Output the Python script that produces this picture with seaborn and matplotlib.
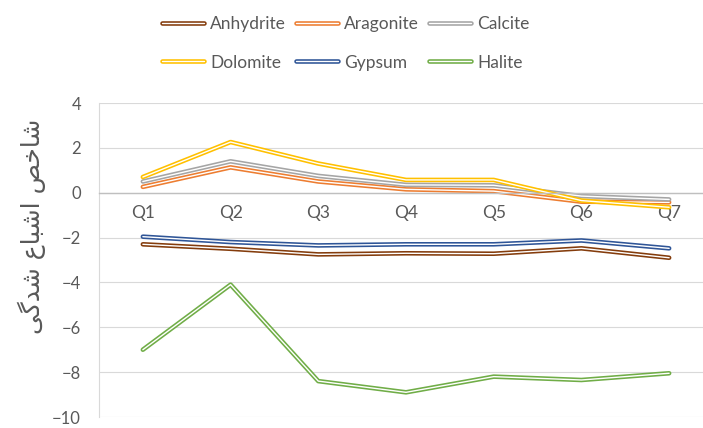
import pandas as pd
import matplotlib.pyplot as plt
import matplotlib.patheffects as pe
import seaborn as sns

quarters = ['Q1', 'Q2', 'Q3', 'Q4', 'Q5', 'Q6', 'Q7']
anhydrite = [-2.3, -2.5, -2.75, -2.7, -2.72, -2.48, -2.9]
aragonite = [0.26, 1.13, 0.5, 0.15, 0.07, -0.4, -0.43]
calcite = [0.5, 1.4, 0.75, 0.35, 0.33, -0.15, -0.3]
dolomite = [0.7, 2.26, 1.3, 0.57, 0.57, -0.35, -0.65]
gypsum = [-1.96, -2.2, -2.35, -2.3, -2.3, -2.13, -2.48]
halite = [-7.0, -4.1, -8.4, -8.9, -8.2, -8.35, -8.05]

minerals = ['Anhydrite', 'Aragonite', 'Calcite', 'Dolomite', 'Gypsum', 'Halite']
colors = ['#843C0C', '#ED7D31', '#A5A5A5', '#FFC000', '#2F5597', '#70AD47']
ylabel = 'شاخص اشباع شدگی'

# matplotlib has no arabic shaping, so pick the presentation forms by hand
FORMS = {
    'ا': ('\uFE8D', '\uFE8E', '\uFE8D', '\uFE8E'),
    'ب': ('\uFE8F', '\uFE90', '\uFE91', '\uFE92'),
    'خ': ('\uFEA5', '\uFEA6', '\uFEA7', '\uFEA8'),
    'د': ('\uFEA9', '\uFEAA', '\uFEA9', '\uFEAA'),
    'ش': ('\uFEB5', '\uFEB6', '\uFEB7', '\uFEB8'),
    'ص': ('\uFEB9', '\uFEBA', '\uFEBB', '\uFEBC'),
    'ع': ('\uFEC9', '\uFECA', '\uFECB', '\uFECC'),
    'گ': ('\uFB92', '\uFB93', '\uFB94', '\uFB95'),
    'ی': ('\uFBFC', '\uFBFD', '\uFBFE', '\uFBFF'),
}
NON_JOINING = set('اد')


def shape(text):
    out = []
    for i, ch in enumerate(text):
        if ch not in FORMS:
            out.append(ch)
            continue
        prev = text[i - 1] if i > 0 else ' '
        nxt = text[i + 1] if i + 1 < len(text) else ' '
        join_prev = prev in FORMS and prev not in NON_JOINING
        join_next = nxt in FORMS and ch not in NON_JOINING
        idx = {(False, False): 0, (True, False): 1, (False, True): 2, (True, True): 3}[(join_prev, join_next)]
        out.append(FORMS[ch][idx])
    return ''.join(reversed(out))


def plot_saturation(output_path):
    series = [anhydrite, aragonite, calcite, dolomite, gypsum, halite]
    df = pd.DataFrame({'quarter': quarters * len(minerals),
                       'mineral': [m for m in minerals for _ in quarters],
                       'value': [v for s in series for v in s]})

    sns.set_theme(style="white")
    plt.rcParams['font.family'] = ['Lato', 'DejaVu Sans']

    fig = plt.figure(figsize=(7.03, 4.28), dpi=100)
    ax = fig.add_axes([99 / 703, 11 / 428, 614 / 703, 314 / 428])

    sns.lineplot(data=df, x='quarter', y='value', hue='mineral',
                 palette=dict(zip(minerals, colors)), sort=False,
                 legend=False, ax=ax)

    # excel style double line: thick coloured stroke with a thin white core
    for line, c in zip(ax.lines, colors):
        line.set_color('white')
        line.set_linewidth(1.0)
        line.set_path_effects([pe.Stroke(linewidth=3.3, foreground=c), pe.Normal()])

    ax.set_xlim(-0.5, 6.5)
    ax.set_ylim(-10, 4)
    ax.set_yticks(range(-10, 5, 2))
    ax.yaxis.grid(True, color='#D9D9D9', linewidth=0.8)
    ax.set_axisbelow(True)

    for side in ['top', 'right']:
        ax.spines[side].set_visible(False)
    ax.spines['left'].set_color('#D9D9D9')
    ax.spines['left'].set_linewidth(0.8)
    ax.spines['bottom'].set_position(('data', 0))
    ax.spines['bottom'].set_color('#BFBFBF')
    ax.spines['bottom'].set_linewidth(1.0)

    ax.tick_params(axis='x', length=0, pad=9, labelsize=12.5, labelcolor='#595959')
    ax.tick_params(axis='y', length=0, pad=13, labelsize=12, labelcolor='#595959')
    ax.set_xlabel('')
    ax.set_ylabel('')

    fig.text(32 / 703, 0.472, shape(ylabel), rotation=90, ha='center', va='center',
             fontsize=18, color='#595959', family=['DejaVu Sans'])

    order = [0, 3, 1, 4, 2, 5]
    handles = [ax.lines[i] for i in order]
    labels = [minerals[i] for i in order]
    fig.legend(handles, labels, loc='center', bbox_to_anchor=(0.492, 0.899),
               ncol=3, frameon=False, fontsize=12.5, labelcolor='#595959',
               handlelength=2.4, handletextpad=0.35, columnspacing=0.6,
               labelspacing=1.3, borderpad=0)

    fig.savefig(output_path, dpi=100)
    plt.close(fig)


if __name__ == "__main__":
    plot_saturation('out.png')
